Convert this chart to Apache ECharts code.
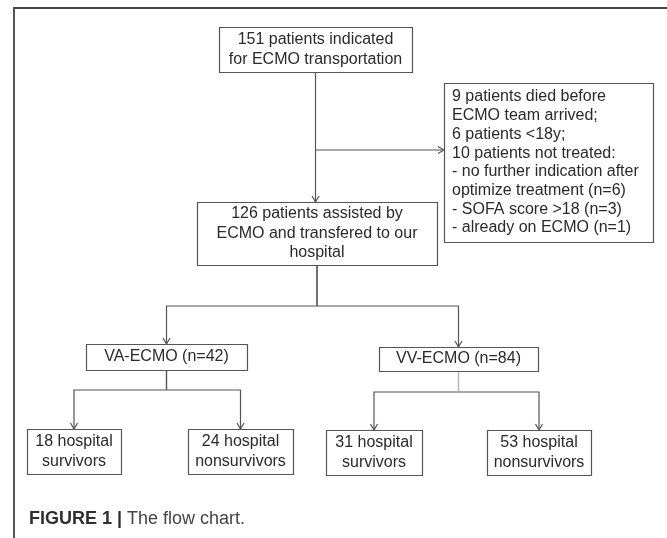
<!DOCTYPE html>
<html>
<head>
<meta charset="utf-8">
<script src="https://cdn.jsdelivr.net/npm/echarts@6/dist/echarts.min.js"></script>
<style>
  html, body { margin: 0; padding: 0; background: #fff; }
  #main { width: 667px; height: 538px; }
</style>
</head>
<body>
<div id="main"></div>
<script>
// flow chart nodes (text) and how they are linked
const nodeIds = ['indicated', 'excluded', 'assisted', 'va', 'vv',
  'vaSurvivors', 'vaNonsurvivors', 'vvSurvivors', 'vvNonsurvivors'];
const nodeLabels = [
  '151 patients indicated\nfor ECMO transportation',
  '9 patients died before\nECMO team arrived;\n6 patients <18y;\n10 patients not treated:\n- no further indication after\noptimize treatment (n=6)\n- SOFA score >18 (n=3)\n- already on ECMO (n=1)',
  '126 patients assisted by\nECMO and transfered to our\nhospital',
  'VA-ECMO (n=42)',
  'VV-ECMO (n=84)',
  '18 hospital\nsurvivors',
  '24 hospital\nnonsurvivors',
  '31 hospital\nsurvivors',
  '53 hospital\nnonsurvivors'
];
const edgeFrom = ['indicated', 'indicated', 'assisted', 'assisted', 'va', 'va', 'vv', 'vv'];
const edgeTo = ['assisted', 'excluded', 'va', 'vv', 'vaSurvivors', 'vaNonsurvivors', 'vvSurvivors', 'vvNonsurvivors'];
const captionBold = 'FIGURE 1 |';
const captionText = 'The flow chart.';

// layout: box corners [x0, y0, x1, y1] in page units, and routing of the links
const boxLayout = [
  [219, 27, 412, 72],
  [444, 83, 653, 242],
  [197, 202, 437, 265],
  [86, 344, 247, 370],
  [379, 347, 538, 371],
  [27, 429, 121, 474],
  [188, 429, 293, 474],
  [326, 430, 422, 475],
  [487, 430, 591, 475]
];
const edgeRoute = [['down'], ['side', 150], ['bus', 306], ['bus', 306],
  ['bus', 390], ['bus', 390], ['bus', 392], ['bus', 392]];
const leftAligned = ['excluded'];
const stemColor = { vv: '#b4b4b4' };

const FONT = '"Liberation Sans", Arial, Helvetica, sans-serif';
const LINE = '#555';

var chart = echarts.init(document.getElementById('main'));

function box(id) { return boxLayout[nodeIds.indexOf(id)]; }
function cx(b) { return (b[0] + b[2]) / 2; }

function arrowHead(p, dir) {
  if (dir === 'right') return [[p[0] - 6, p[1] - 3.5], p, [p[0] - 6, p[1] + 3.5]];
  return [[p[0] - 3.5, p[1] - 6], p, [p[0] + 3.5, p[1] - 6]];
}

function renderBox(params, api) {
  var i = api.value(0);
  var b = boxLayout[i];
  var p0 = api.coord([b[0], b[1]]);
  var p1 = api.coord([b[2], b[3]]);
  var left = leftAligned.indexOf(nodeIds[i]) >= 0;
  return {
    type: 'group',
    children: [{
      type: 'rect',
      shape: { x: Math.round(p0[0]) + 0.5, y: Math.round(p0[1]) + 0.5,
        width: Math.round(p1[0] - p0[0]), height: Math.round(p1[1] - p0[1]) },
      style: { fill: '#fff', stroke: LINE, lineWidth: 1.2 }
    }, {
      type: 'text',
      style: {
        text: nodeLabels[i],
        x: left ? p0[0] + 8 : (p0[0] + p1[0]) / 2,
        y: (p0[1] + p1[1]) / 2,
        align: left ? 'left' : 'center',
        verticalAlign: 'middle',
        fontSize: 16,
        fontFamily: FONT,
        lineHeight: left ? 18.7 : 19.5,
        fill: '#2a2a2a'
      }
    }]
  };
}

function renderEdge(params, api) {
  var i = api.value(0);
  var f = box(edgeFrom[i]);
  var t = box(edgeTo[i]);
  var route = edgeRoute[i];
  var children = [];
  var tip, dir = 'down';
  if (route[0] === 'down') {
    var a = api.coord([cx(f), f[3]]);
    tip = api.coord([cx(f), t[1]]);
    children.push({ type: 'polyline', shape: { points: [a, tip] } });
  } else if (route[0] === 'side') {
    var s = api.coord([cx(f), route[1]]);
    tip = api.coord([t[0], route[1]]);
    dir = 'right';
    children.push({ type: 'polyline', shape: { points: [s, tip] } });
  } else {
    var top = api.coord([cx(f), f[3]]);
    var j = api.coord([cx(f), route[1]]);
    var k = api.coord([cx(t), route[1]]);
    tip = api.coord([cx(t), t[1]]);
    children.push({ type: 'polyline', shape: { points: [top, j] },
      style: { stroke: stemColor[edgeFrom[i]] || LINE, lineWidth: 1.2 } });
    children.push({ type: 'polyline', shape: { points: [j, k, tip] } });
  }
  children.push({ type: 'polyline', shape: { points: arrowHead(tip, dir) } });
  children.forEach(function (c) {
    c.style = c.style || { stroke: LINE, lineWidth: 1.2, fill: null };
    c.style.fill = null;
  });
  return { type: 'group', children: children };
}

chart.setOption({
  backgroundColor: '#fff',
  animation: false,
  grid: { left: 0, right: 0, top: 0, bottom: 0 },
  xAxis: { type: 'value', min: 0, max: 667, show: false },
  yAxis: { type: 'value', min: 0, max: 538, inverse: true, show: false },
  title: {
    left: 29,
    top: 508,
    padding: 0,
    text: '{b|' + captionBold + '} {n|' + captionText + '}',
    textStyle: {
      rich: {
        b: { fontSize: 18, fontWeight: 'bold', color: '#2f2f2f', fontFamily: FONT, lineHeight: 22 },
        n: { fontSize: 18, fontWeight: 'normal', color: '#444', fontFamily: FONT, lineHeight: 22 }
      }
    }
  },
  graphic: [
    { type: 'line', shape: { x1: 13, y1: 8, x2: 667, y2: 8 }, style: { stroke: '#444', lineWidth: 2 } },
    { type: 'line', shape: { x1: 14, y1: 7, x2: 14, y2: 538 }, style: { stroke: '#555', lineWidth: 2 } }
  ],
  series: [{
    type: 'custom',
    name: 'links',
    coordinateSystem: 'cartesian2d',
    clip: false,
    silent: true,
    renderItem: renderEdge,
    data: edgeFrom.map(function (_, i) { return [i]; })
  }, {
    type: 'custom',
    name: 'boxes',
    coordinateSystem: 'cartesian2d',
    clip: false,
    silent: true,
    renderItem: renderBox,
    data: nodeIds.map(function (_, i) { return [i]; })
  }]
});
</script>
</body>
</html>
